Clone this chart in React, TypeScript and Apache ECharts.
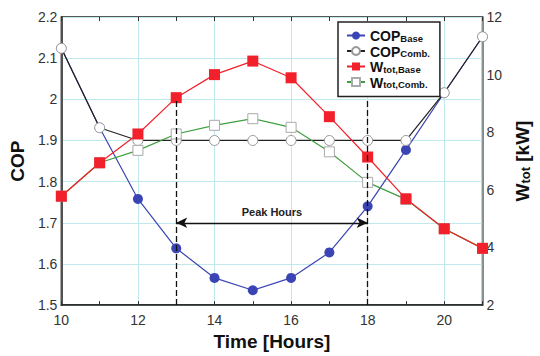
import React, { useEffect, useRef } from "react";
import * as echarts from "echarts";

const hours = [10, 11, 12, 13, 14, 15, 16, 17, 18, 19, 20, 21];
const copBase = [2.124, 1.931, 1.758, 1.638, 1.566, 1.536, 1.566, 1.628, 1.74, 1.877, 2.016, 2.152];
const copComb = [2.124, 1.931, 1.9, 1.9, 1.9, 1.9, 1.9, 1.9, 1.9, 1.9, 2.016, 2.152];
const wBase = [5.78, 6.94, 7.94, 9.2, 10.0, 10.47, 9.89, 8.54, 7.14, 5.69, 4.65, 3.97];
const wComb = [5.78, 6.94, 7.37, 7.94, 8.24, 8.47, 8.17, 7.32, 6.26, 5.67, 4.65, 3.97];
const peakStart = 13;
const peakEnd = 18;
const peakCop = 1.7;
const dashTopCop = 2.0;
const copMin = 1.5;

const FONT = "Liberation Sans";

const legendRich: Record<string, string> = {
  COP_Base: "{b|COP}{s|Base}",
  COP_Comb: "{b|COP}{s|Comb.}",
  W_Base: "{b|W}{s|tot,Base}",
  W_Comb: "{b|W}{s|tot,Comb.}",
};

export default function App() {
  const ref = useRef<HTMLDivElement>(null);
  useEffect(() => {
    if (!ref.current) return;
    const chart = echarts.init(ref.current, null, { renderer: "svg" });
    const pairs = (ys: number[]) => hours.map((h, i) => [h, ys[i]]);
    const tickAxis = (position: "top" | "bottom") => ({
      type: "value",
      min: 10,
      max: 21,
      interval: 1,
      position,
      axisLine: { show: false },
      axisTick: { show: true, inside: true, length: 4, lineStyle: { color: "#333" } },
      axisLabel: { show: false },
      splitLine: { show: false },
    });
    chart.setOption({
      animation: false,
      backgroundColor: "#ffffff",
      textStyle: { fontFamily: FONT },
      grid: {
        left: 59,
        right: 38,
        top: 17,
        bottom: 45,
        show: true,
        borderColor: "#222",
        borderWidth: 1.5,
        backgroundColor: "transparent",
      },
      legend: {
        data: ["COP_Base", "COP_Comb", "W_Base", "W_Comb"],
        orient: "vertical",
        left: 338,
        top: 22,
        itemWidth: 18,
        itemHeight: 10,
        itemGap: 1.5,
        padding: [7, 10, 7, 8],
        borderColor: "#222",
        borderWidth: 1.5,
        backgroundColor: "#ffffff",
        formatter: (n: string) => legendRich[n],
        textStyle: {
          color: "#111",
          rich: {
            b: { fontSize: 14, fontWeight: "bold", fontFamily: FONT, color: "#111", verticalAlign: "bottom", lineHeight: 15 },
            s: { fontSize: 9.5, fontWeight: "bold", fontFamily: FONT, color: "#111", verticalAlign: "bottom", lineHeight: 10 },
          },
        },
      },
      xAxis: [
        {
          type: "value",
          min: 10,
          max: 21,
          interval: 2,
          name: "Time [Hours]",
          nameLocation: "middle",
          nameGap: 22,
          nameTextStyle: { fontSize: 19, fontWeight: "bold", color: "#111", fontFamily: FONT },
          axisLine: { show: true, lineStyle: { color: "#222", width: 1.5 } },
          axisTick: { show: false },
          axisLabel: {
            fontSize: 14,
            color: "#333",
            margin: 8,
            formatter: (v: number) => (v % 2 === 0 ? String(v) : ""),
          },
          splitLine: { show: true, lineStyle: { color: "#bfe9ec", width: 1 } },
        },
        tickAxis("bottom"),
        tickAxis("top"),
      ],
      yAxis: [
        {
          type: "value",
          min: 1.5,
          max: 2.2,
          interval: 0.1,
          position: "left",
          name: "COP",
          nameLocation: "middle",
          nameRotate: 90,
          nameGap: 29,
          nameTextStyle: { fontSize: 19, fontWeight: "bold", color: "#111", fontFamily: FONT },
          axisLine: { show: true, lineStyle: { color: "#222", width: 1.5 } },
          axisTick: { show: false },
          axisLabel: { fontSize: 14, color: "#333", margin: 4 },
          splitLine: { show: true, lineStyle: { color: "#bfe9ec", width: 1 } },
        },
        {
          type: "value",
          min: 2,
          max: 12,
          interval: 2,
          position: "right",
          name: "{b|W}{s|tot}{b| [kW]}",
          nameLocation: "middle",
          nameRotate: 90,
          nameGap: 15,
          nameTextStyle: {
            rich: {
              b: { fontSize: 19, fontWeight: "bold", color: "#111", fontFamily: FONT, verticalAlign: "bottom", lineHeight: 20 },
              s: { fontSize: 13, fontWeight: "bold", color: "#111", fontFamily: FONT, verticalAlign: "bottom", lineHeight: 14, padding: [6, 0, 0, 0] },
            },
          },
          axisLine: { show: true, lineStyle: { color: "#777", width: 1.5 } },
          axisTick: { show: false },
          axisLabel: { fontSize: 14, color: "#333", margin: 4 },
          splitLine: { show: false },
        },
      ],
      series: [
        {
          name: "COP_Base",
          type: "line",
          xAxisIndex: 0,
          yAxisIndex: 0,
          data: pairs(copBase),
          symbol: "circle",
          symbolSize: 10,
          itemStyle: { color: "#3a44b4" },
          lineStyle: { color: "#3a44b4", width: 1.2 },
          markLine: {
            silent: true,
            symbol: ["none", "none"],
            label: { show: false },
            lineStyle: { color: "#111", width: 1.3, type: [6, 3] },
            data: [
              [{ coord: [peakStart, copMin] }, { coord: [peakStart, dashTopCop] }],
              [{ coord: [peakEnd, copMin] }, { coord: [peakEnd, dashTopCop] }],
            ],
          },
        },
        {
          name: "COP_Comb",
          type: "line",
          xAxisIndex: 0,
          yAxisIndex: 0,
          data: pairs(copComb),
          symbol: "circle",
          symbolSize: 10,
          itemStyle: { color: "#ffffff", borderColor: "#999", borderWidth: 1 },
          lineStyle: { color: "#222", width: 1.2 },
          markLine: {
            silent: true,
            symbol: ["arrow", "arrow"],
            symbolSize: [8, 11],
            lineStyle: { color: "#111", width: 1.3, type: "solid" },
            label: {
              show: true,
              position: "insideMiddleTop",
              formatter: "Peak Hours",
              fontSize: 11,
              fontWeight: "bold",
              color: "#222",
              fontFamily: FONT,
              distance: 5,
            },
            data: [[{ coord: [peakStart, peakCop] }, { coord: [peakEnd, peakCop] }]],
          },
        },
        {
          name: "W_Comb",
          type: "line",
          xAxisIndex: 0,
          yAxisIndex: 1,
          data: pairs(wComb),
          symbol: "rect",
          symbolSize: 10,
          itemStyle: { color: "#ffffff", borderColor: "#aaa", borderWidth: 1 },
          lineStyle: { color: "#3f9f3f", width: 1.2 },
        },
        {
          name: "W_Base",
          type: "line",
          xAxisIndex: 0,
          yAxisIndex: 1,
          data: pairs(wBase),
          symbol: "rect",
          symbolSize: 11,
          itemStyle: { color: "#f2202a" },
          lineStyle: { color: "#f2202a", width: 1.2 },
        },
      ],
    });
    return () => chart.dispose();
  }, []);
  return <div ref={ref} style={{ position: "absolute", left: 0, top: 0, width: 540, height: 356 }} />;
}
